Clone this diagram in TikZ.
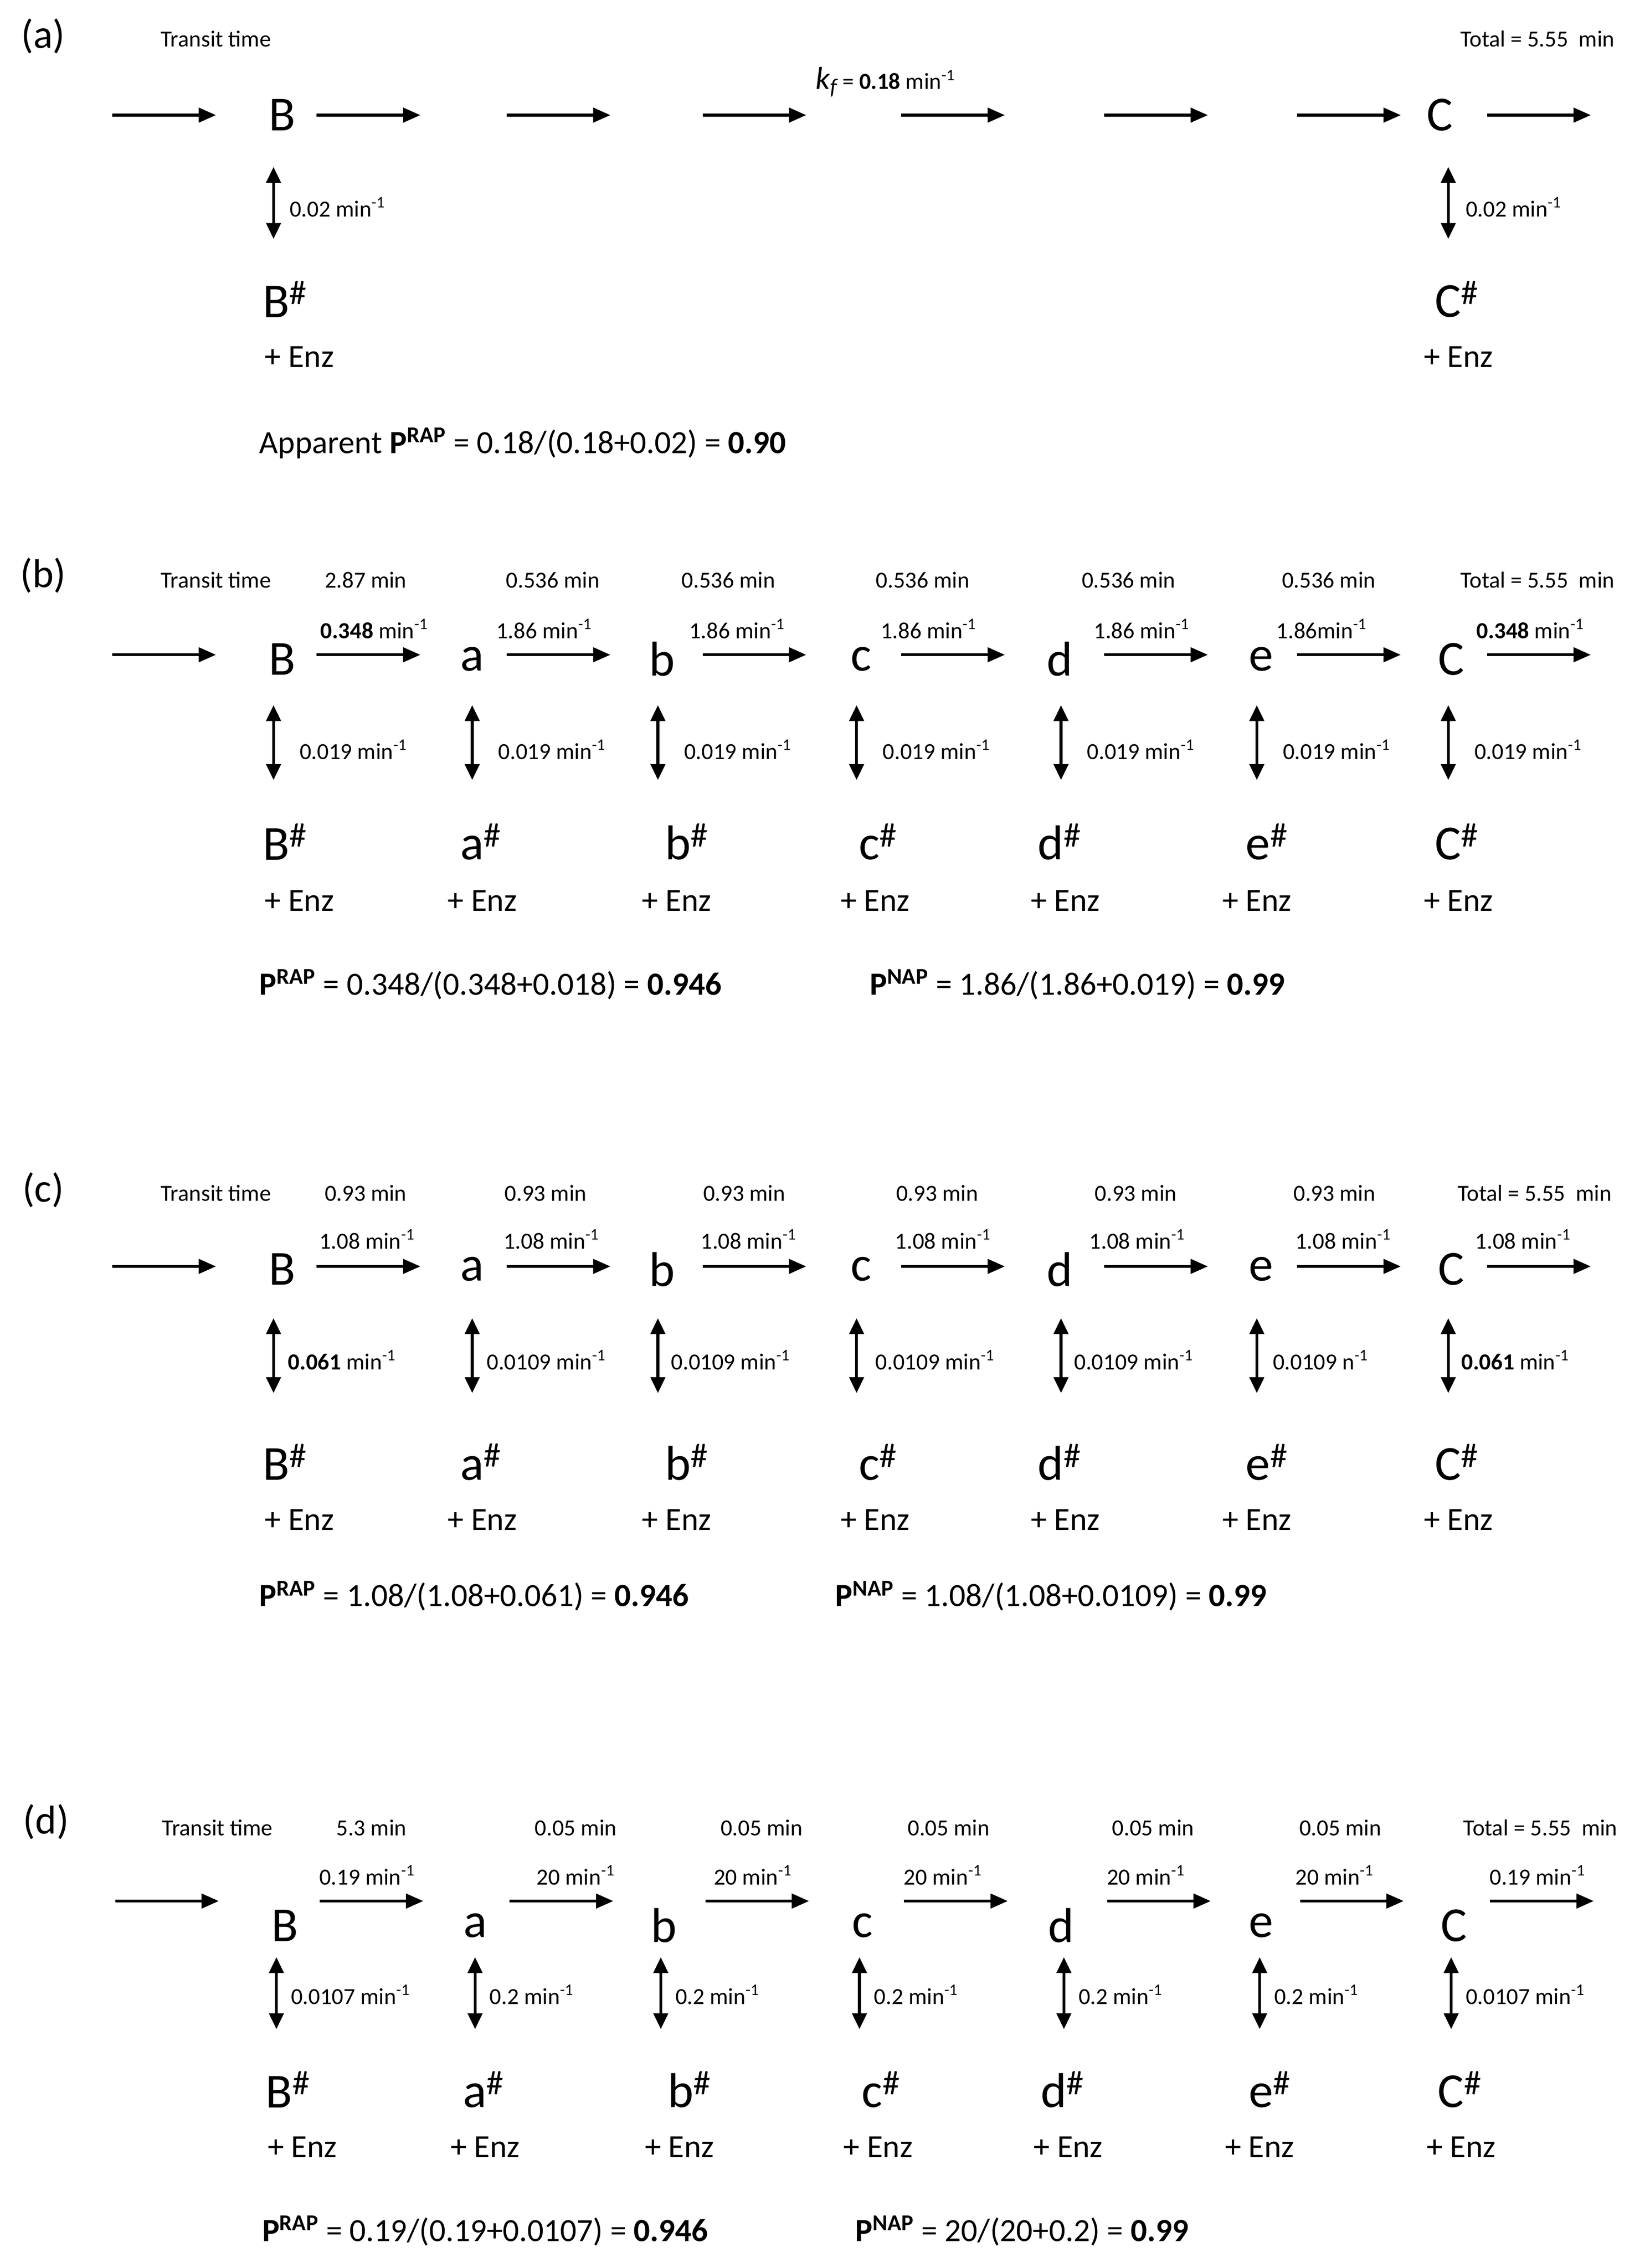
\documentclass[tikz,border=0pt]{standalone}
\usepackage{fontspec}
\setmainfont{Carlito}
\usetikzlibrary{arrows.meta}
\newcommand{\fsm}{\fontsize{16}{19}\selectfont}
\newcommand{\fmd}{\fontsize{22.5}{26}\selectfont}
\newcommand{\flg}{\fontsize{34}{40}\selectfont}
\newcommand{\mi}{min\textsuperscript{-1}}
\tikzset{
 arr/.style={line width=2pt,-{Triangle[length=12pt,width=10pt]}},
 dbl/.style={line width=2pt,{Triangle[length=11pt,width=10pt]}-{Triangle[length=11pt,width=10pt]}},
 t/.style={inner sep=0pt,font=\fsm},
 tl/.style={inner sep=0pt,font=\fsm,anchor=west},
 big/.style={inner sep=0pt,font=\flg},
 enz/.style={inner sep=0pt,font=\fmd},
 form/.style={inner sep=0pt,font=\fmd,anchor=west},
}
\begin{document}
\begin{tikzpicture}[x=1pt,y=-1pt]
\useasboundingbox[fill=white] (0,0) rectangle (1146,1576);
% ---------- (a)
\node[enz,font=\fontsize{28}{32}\selectfont] (pa) at (30,25) {(a)};
\node[t] (tta) at (150,27) {Transit time};
\node[t] (tota) at (1068,27) {Total = 5.55\ \ min};
\foreach \s [count=\i] in {78,220,352,488,626,767,901,1033}{
 \coordinate (as\i) at (\s,80); \coordinate (ae\i) at (\s+72,80);
 \draw[arr] (as\i) -- (ae\i);}
\node[t] (kf) at (615,57) {{\fontsize{22}{24}\selectfont\textit{k}\textsubscript{\textit{f}}}\,= \textbf{0.18} \mi};
\node[big] (aB) at (196,80) {B};
\node[big] (aC) at (1000,80) {C};
\coordinate (ad1a) at (190,116); \coordinate (ad1b) at (190,166);
\draw[dbl] (ad1a) -- (ad1b);
\node[tl] (al1) at (201,144) {0.02 \mi};
\coordinate (ad2a) at (1006,116); \coordinate (ad2b) at (1006,166);
\draw[dbl] (ad2a) -- (ad2b);
\node[tl] (al2) at (1018,144) {0.02 \mi};
\node[big] (aBh) at (198,208) {B\textsuperscript{\#}};
\node[big] (aCh) at (1012,208) {C\textsuperscript{\#}};
\node[enz] (ae1) at (208,248) {+ Enz};
\node[enz] (ae2) at (1013,248) {+ Enz};
\node[form] (af) at (180,308) {Apparent \textbf{P\textsuperscript{RAP}} = 0.18/(0.18+0.02) = \textbf{0.90}};
% (b)
\node[enz,font=\fontsize{28}{32}\selectfont] (pb) at (30,400) {(b)};
\node[t] (ttb) at (150,403) {Transit time};
\foreach \x/\tx [count=\i] in {254/2.87 min,384/0.536 min,506/0.536 min,641/0.536 min,784/0.536 min,923/0.536 min,1068/Total = 5.55\ \ min}
 \node[t] (bt\i) at (\x,403) {\tx};
\foreach \x/\tx [count=\i] in {260/\textbf{0.348} \mi,378/1.86 \mi,512/1.86 \mi,645/1.86 \mi,793/1.86 \mi,918/1.86min\textsuperscript{-1},1063/\textbf{0.348} \mi}
 \node[t] (br\i) at (\x,437) {\tx};
\foreach \s [count=\i] in {78,220,352,488,626,767,901,1033}{
 \coordinate (bs\i) at (\s,455); \coordinate (be\i) at (\s+72,455);
 \draw[arr] (bs\i) -- (be\i);}
\foreach \x/\l [count=\i] in {196/B,328/a,460/b,598/c,736/d,876/e,1008/C}
 \node[big] (bL\i) at (\x,458) {\l};
\foreach \x [count=\i] in {190,328,457,595,737,873,1006}{
 \coordinate (bda\i) at (\x,490); \coordinate (bdb\i) at (\x,542);
 \draw[dbl] (bda\i) -- (bdb\i);
 \node[tl] (bl\i) at (\x+18,521) {0.019 \mi};}
\foreach \x/\l [count=\i] in {198/B,334/a,477/b,610/c,736/d,880/e,1012/C}
 \node[big] (bH\i) at (\x,585) {\l\textsuperscript{\#}};
\foreach \x [count=\i] in {208,335,470,608,740,873,1013}
 \node[enz] (bE\i) at (\x,626) {+ Enz};
\node[form] (bf1) at (180,684) {\textbf{P\textsuperscript{RAP}} = 0.348/(0.348+0.018) = \textbf{0.946}};
\node[form] (bf2) at (604,684) {\textbf{P\textsuperscript{NAP}} = 1.86/(1.86+0.019) = \textbf{0.99}};
% (c)
\node[enz,font=\fontsize{28}{32}\selectfont] (pc) at (30,827) {(c)};
\node[t] (ttc) at (150,829) {Transit time};
\foreach \x/\tx [count=\i] in {254/0.93 min,379/0.93 min,517/0.93 min,651/0.93 min,789/0.93 min,927/0.93 min,1066/Total = 5.55\ \ min}
 \node[t] (ct\i) at (\x,829) {\tx};
\foreach \x [count=\i] in {255,383,520,655,790,933,1058}
 \node[t] (cr\i) at (\x,861) {1.08 \mi};
\foreach \s [count=\i] in {78,220,352,488,626,767,901,1033}{
 \coordinate (cs\i) at (\s,880); \coordinate (ce\i) at (\s+72,880);
 \draw[arr] (cs\i) -- (ce\i);}
\foreach \x/\l [count=\i] in {196/B,328/a,460/b,598/c,736/d,876/e,1008/C}
 \node[big] (cL\i) at (\x,882) {\l};
\foreach \x/\dx/\tx [count=\i] in {190/10/\textbf{0.061} \mi,328/10/0.0109 \mi,457/9/0.0109 \mi,595/13/0.0109 \mi,737/9/0.0109 \mi,873/11/0.0109 n\textsuperscript{-1},1006/9/\textbf{0.061} \mi}{
 \coordinate (cda\i) at (\x,916); \coordinate (cdb\i) at (\x,968);
 \draw[dbl] (cda\i) -- (cdb\i);
 \node[tl] (cl\i) at (\x+\dx,945) {\tx};}
\foreach \x/\l [count=\i] in {198/B,334/a,477/b,610/c,736/d,880/e,1012/C}
 \node[big] (cH\i) at (\x,1016) {\l\textsuperscript{\#}};
\foreach \x [count=\i] in {208,335,470,608,740,873,1013}
 \node[enz] (cE\i) at (\x,1056) {+ Enz};
\node[form] (cf1) at (180,1109) {\textbf{P\textsuperscript{RAP}} = 1.08/(1.08+0.061) = \textbf{0.946}};
\node[form] (cf2) at (580,1109) {\textbf{P\textsuperscript{NAP}} = 1.08/(1.08+0.0109) = \textbf{0.99}};
% (d)
\node[enz,font=\fontsize{28}{32}\selectfont] (pd) at (32,1266) {(d)};
\node[t] (ttd) at (151,1270) {Transit time};
\foreach \x/\tx [count=\i] in {258/5.3 min,400/0.05 min,529/0.05 min,659/0.05 min,801/0.05 min,931/0.05 min,1070/Total = 5.55\ \ min}
 \node[t] (dt\i) at (\x,1270) {\tx};
\foreach \x/\tx [count=\i] in {255/0.19 \mi,400/20 \mi,523/20 \mi,655/20 \mi,796/20 \mi,927/20 \mi,1068/0.19 \mi}
 \node[t] (dr\i) at (\x,1303) {\tx};
\foreach \s [count=\i] in {80,222,354,490,628,769,903,1035}{
 \coordinate (ds\i) at (\s,1321); \coordinate (de\i) at (\s+72,1321);
 \draw[arr] (ds\i) -- (de\i);}
\foreach \x/\l [count=\i] in {198/B,330/a,461/b,599/c,737/d,876/e,1010/C}
 \node[big] (dL\i) at (\x,1338) {\l};
\foreach \x/\tx [count=\i] in {192/0.0107 \mi,330/0.2 \mi,459/0.2 \mi,597/0.2 \mi,739/0.2 \mi,875/0.2 \mi,1008/0.0107 \mi}{
 \coordinate (dda\i) at (\x,1360); \coordinate (ddb\i) at (\x,1410);
 \draw[dbl] (dda\i) -- (ddb\i);
 \node[tl] (dl\i) at (\x+10,1386) {\tx};}
\foreach \x/\l [count=\i] in {200/B,336/a,479/b,612/c,738/d,882/e,1014/C}
 \node[big] (dH\i) at (\x,1452) {\l\textsuperscript{\#}};
\foreach \x [count=\i] in {210,337,472,610,742,875,1015}
 \node[enz] (dE\i) at (\x,1492) {+ Enz};
\node[form] (df1) at (182,1550) {\textbf{P\textsuperscript{RAP}} = 0.19/(0.19+0.0107) = \textbf{0.946}};
\node[form] (df2) at (594,1550) {\textbf{P\textsuperscript{NAP}} = 20/(20+0.2) = \textbf{0.99}};
\end{tikzpicture}
\end{document}
